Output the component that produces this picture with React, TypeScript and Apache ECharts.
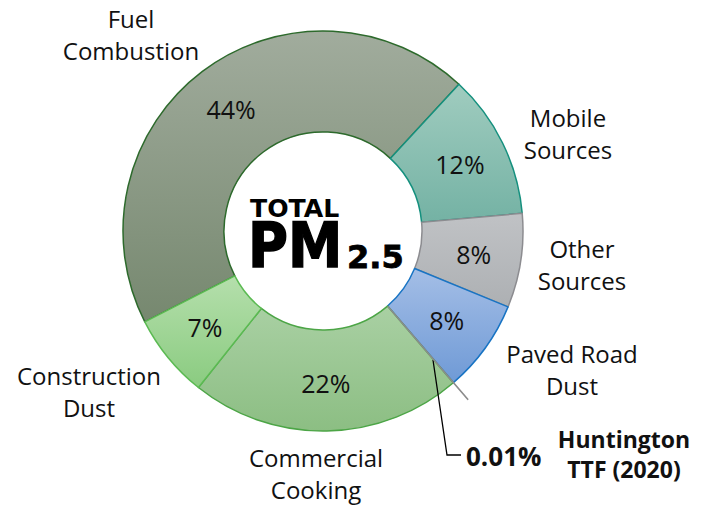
import React, { useEffect, useRef } from "react";
import * as echarts from "echarts";

// ---- data ----
const categories = [
  "Fuel Combustion",
  "Mobile Sources",
  "Other Sources",
  "Paved Road Dust",
  "Huntington TTF (2020)",
  "Commercial Cooking",
  "Construction Dust",
];
const labelNames = [
  "Fuel\nCombustion",
  "Mobile\nSources",
  "Other\nSources",
  "Paved Road\nDust",
  "Huntington\nTTF (2020)",
  "Commercial\nCooking",
  "Construction\nDust",
];
const shares = [44.4, 11.7, 7.6, 7.5, 0.01, 22.0, 6.8];
const titleWords = ["TOTAL", "PM", "2.5"];
const HIGHLIGHT = 4;

// ---- styles / layout ----
const fillTop = ["#A1AC9D", "#A0CCBF", "#C0C2C5", "#A4BEE6", "#8C8C8C", "#A9D0A3", "#B5DFAC"];
const fillBottom = ["#76886F", "#74B2A4", "#ADB0B3", "#6F9AD6", "#8C8C8C", "#8CBE83", "#8ACB80"];
const borders = ["#2D6A2C", "#15907E", "#8C8C90", "#1874C4", "#8C8C8C", "#4CA546", "#5BBA52"];
const CENTER: [number, number] = [323, 231];
const START = 207;
const nameAnchors: [number, number][] = [
  [131, 34],
  [568, 133],
  [582, 264],
  [572, 369],
  [624, 454],
  [316, 473],
  [89, 391],
];
const FONT = "Open Sans";

const pct = (v: number) => (v < 1 ? `${v}%` : `${Math.round(v)}%`);

export default function App() {
  const ref = useRef<HTMLDivElement>(null);
  useEffect(() => {
    if (!ref.current) return;
    const chart = echarts.init(ref.current, undefined, { renderer: "svg" });
    const before = shares.slice(0, HIGHLIGHT).reduce((a, b) => a + b, 0);
    const after = shares.slice(HIGHLIGHT + 1).reduce((a, b) => a + b, 0);
    const transparentItem = (v: number) => ({
      value: v,
      name: "",
      itemStyle: { color: "rgba(0,0,0,0)", borderWidth: 0 },
      label: { show: false },
      labelLine: { show: false },
    });
    chart.setOption({
      animation: false,
      backgroundColor: "#ffffff",
      series: [
        {
          type: "pie",
          radius: [99, 200],
          center: CENTER,
          startAngle: START,
          clockwise: true,
          silent: true,
          avoidLabelOverlap: false,
          data: shares.map((v, i) => ({
            name: categories[i],
            value: v,
            itemStyle: {
              color: new echarts.graphic.LinearGradient(0, 0, 0, 1, [
                { offset: 0, color: fillTop[i] },
                { offset: 1, color: fillBottom[i] },
              ]),
              borderColor: borders[i],
              borderWidth: i === HIGHLIGHT ? 0 : 1.5,
            },
            label: { show: i !== HIGHLIGHT },
          })),
          label: {
            position: "inside",
            formatter: (p: any) => pct(p.value),
            fontFamily: FONT,
            fontSize: 25,
            color: "#111",
          },
          labelLine: { show: false },
        },
        {
          type: "pie",
          radius: [99, 200],
          center: CENTER,
          startAngle: START,
          clockwise: true,
          silent: true,
          avoidLabelOverlap: false,
          itemStyle: { color: "rgba(0,0,0,0)", borderWidth: 0 },
          data: shares.map((v, i) => ({
            name: categories[i],
            value: v,
            label:
              i === HIGHLIGHT
                ? { fontWeight: "bold", fontSize: 23, lineHeight: 30, color: "#111" }
                : {},
          })),
          label: {
            show: true,
            position: "outside",
            formatter: (p: any) => labelNames[p.dataIndex],
            fontFamily: FONT,
            fontSize: 24,
            lineHeight: 32,
            color: "#111",
            align: "center",
          },
          labelLine: { show: false },
          labelLayout: (p: any) => ({
            x: nameAnchors[p.dataIndex][0],
            y: nameAnchors[p.dataIndex][1],
            align: "center",
            verticalAlign: "middle",
          }),
        },
        {
          type: "pie",
          radius: [100, 222],
          center: CENTER,
          startAngle: START,
          clockwise: true,
          silent: true,
          avoidLabelOverlap: false,
          z: 5,
          data: [
            transparentItem(before),
            {
              name: categories[HIGHLIGHT],
              value: shares[HIGHLIGHT],
              itemStyle: { color: "#8C8C8C", borderColor: "#8C8C8C", borderWidth: 1.5 },
              label: { show: true },
              labelLine: { show: true },
            },
            transparentItem(after),
          ],
          label: {
            position: "outside",
            formatter: (p: any) => pct(p.value),
            fontFamily: FONT,
            fontWeight: "bold",
            fontSize: 26,
            color: "#111",
          },
          labelLine: { lineStyle: { color: "#000", width: 1.3 } },
          labelLayout: (p: any) =>
            p.dataIndex === 1
              ? {
                  x: 466,
                  y: 456,
                  align: "left",
                  verticalAlign: "middle",
                  labelLinePoints: [
                    [433, 360],
                    [447, 455],
                    [461, 455],
                  ],
                }
              : {},
        },
      ],
      graphic: [
        {
          type: "text",
          x: 250,
          y: 209,
          scaleX: 1.05,
          style: {
            text: titleWords[0],
            font: 'bold 24px "DejaVu Sans"',
            fill: "#000",
            verticalAlign: "middle",
          },
        },
        {
          type: "text",
          x: 248,
          y: 246,
          scaleX: 0.88,
          style: {
            text: titleWords[1],
            font: 'bold 62px "DejaVu Sans"',
            fill: "#000",
            stroke: "#000",
            lineWidth: 1.5,
            verticalAlign: "middle",
          },
        },
        {
          type: "text",
          x: 347,
          y: 257,
          style: {
            text: titleWords[2],
            font: 'bold 32px "DejaVu Sans"',
            fill: "#000",
            stroke: "#000",
            lineWidth: 0.8,
            verticalAlign: "middle",
          },
        },
      ],
    });
    return () => chart.dispose();
  }, []);
  return (
    <div
      ref={ref}
      style={{ position: "absolute", left: 0, top: 0, width: 707, height: 506 }}
    />
  );
}
